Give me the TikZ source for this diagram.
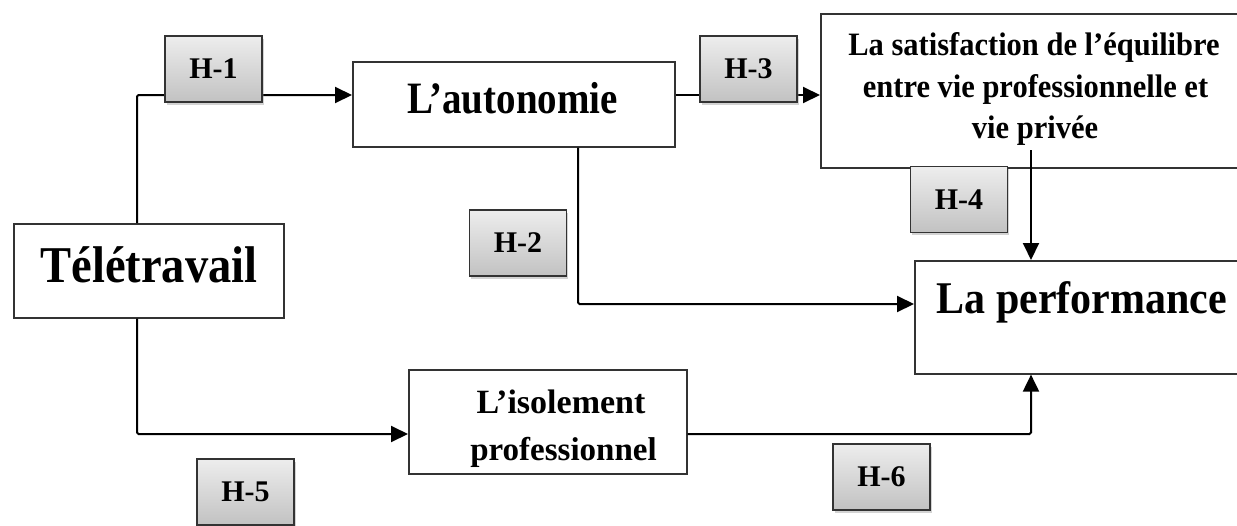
\documentclass[tikz,border=0pt]{standalone}
\usepackage{fontspec}
\setmainfont{Liberation Serif}
\usetikzlibrary{arrows.meta,shadows}

\begin{document}
\begin{tikzpicture}[x=1pt,y=-1pt,
  box/.style={draw=black!80, line width=1.6pt, fill=white, rectangle,
    inner sep=0pt, anchor=north west},
  hyp/.style={draw=black!80, line width=1.8pt, top color=black!7,
    bottom color=black!24, minimum width=97pt, minimum height=66pt,
    inner sep=0pt,
    drop shadow={shadow xshift=1.5pt, shadow yshift=-2.5pt, opacity=0.35},
    font=\fontsize{30}{32}\selectfont\bfseries},
  lbl/.style={anchor=base, inner sep=0pt},
  link/.style={line width=2pt, rounded corners=1.5pt,
    -{Triangle[length=17pt,width=16pt]}}]

\useasboundingbox (0,0) rectangle (1237,525);

% main boxes
\node[box, minimum width=270pt, minimum height=94pt] (tele) at (13,223) {};
\node[box, minimum width=322pt, minimum height=85pt] (auto) at (352,61) {};
\node[box, minimum width=418pt, minimum height=154pt] (sat) at (820,13) {};
\node[box, minimum width=323pt, minimum height=113pt] (perf) at (914,260) {};
\node[box, minimum width=278pt, minimum height=104pt] (iso) at (408,369) {};

% box texts
\node[lbl, font=\fontsize{46.5}{50}\selectfont\bfseries] (teletxt) at (149,282)
  {\scalebox{1}[1.11]{Télétravail}};
\node[lbl, font=\fontsize{39}{42}\selectfont\bfseries] (autotxt) at (512.5,113)
  {\scalebox{1}[1.15]{L’autonomie}};
\node[lbl, font=\fontsize{42}{46}\selectfont\bfseries] (perftxt) at (1082,313)
  {\scalebox{1}[1.08]{La performance}};
\node[lbl, font=\fontsize{30.5}{33}\selectfont\bfseries] (sat1) at (1034,55)
  {\scalebox{1}[1.07]{La satisfaction de l’équilibre}};
\node[lbl, font=\fontsize{30.5}{33}\selectfont\bfseries] (sat2) at (1035.5,97)
  {\scalebox{1}[1.07]{entre vie professionnelle et}};
\node[lbl, font=\fontsize{30.5}{33}\selectfont\bfseries] (sat3) at (1035,138)
  {\scalebox{1}[1.07]{vie privée}};
\node[lbl, font=\fontsize{34}{36}\selectfont\bfseries] (iso1) at (561,413)
  {L’isolement};
\node[lbl, font=\fontsize{33}{36}\selectfont\bfseries] (iso2) at (563.5,460)
  {professionnel};

% connector routing points
\coordinate (j1) at (137,95);
\coordinate (j2) at (578,304);
\coordinate (j3) at (1031,150);
\coordinate (j4) at (137,434);

% connectors
\draw[link] (tele.north -| j1) |- (auto.west |- j1);
\draw[link] (auto.east |- j1) -- (sat.west |- j1);
\draw[link] (auto.south -| j2) |- (perf.west |- j2);
\draw[link] (j3) -- (perf.north -| j3);
\draw[link] (tele.south -| j4) |- (iso.west |- j4);
\draw[link] (iso.east |- j4) -| (perf.south -| j3);

% hypothesis tags
\node[hyp] (h1) at (213.5,69) {H-1};
\node[hyp] (h2) at (518,243) {H-2};
\node[hyp] (h3) at (748.5,69) {H-3};
\node[hyp] (h4) at (959,199.5) {H-4};
\node[hyp] (h5) at (245.5,492) {H-5};
\node[hyp] (h6) at (881.5,477) {H-6};
\end{tikzpicture}
\end{document}
